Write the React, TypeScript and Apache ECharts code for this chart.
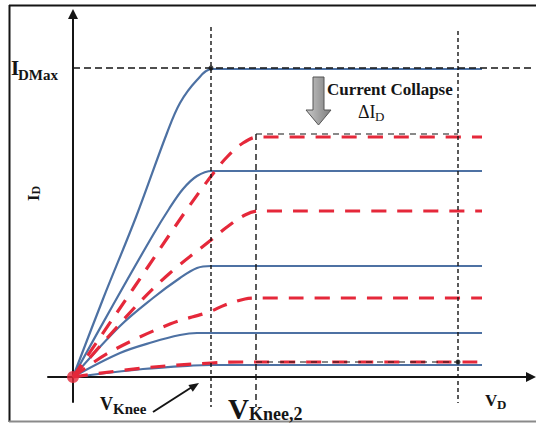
import React, { useEffect, useRef } from "react";
import * as echarts from "echarts";

type Pt = [number, number];

// Reference voltages / currents (V_D and I_D in arbitrary units)
const V_KNEE = 13.8;
const V_KNEE2 = 18.3;
const V_REF = 38.5;
const V_GUIDE_END = 45.9;
const ID_MAX = 30.9;
const ID_COLLAPSED = 24.3;
const ID_LOW_REF = 1.5;

// Solid curves: I_D(V_D) before current collapse
const solid1: Pt[] = [[0, 0], [3, 7.8], [6.3, 16], [9.4, 24.4], [10.7, 27.4], [12.4, 29.7], [13.9, 30.8], [40.9, 30.8]];
const solid2: Pt[] = [[0, 0], [4, 7.2], [8, 14.2], [9.6, 16.8], [11, 18.8], [12.4, 20.1], [13.9, 20.6], [40.9, 20.6]];
const solid3: Pt[] = [[0, 0], [4.7, 5.1], [8, 7.9], [10.7, 9.9], [12.4, 10.9], [13.8, 11.1], [40.9, 11.1]];
const solid4: Pt[] = [[0, 0], [4.7, 2.4], [8, 3.5], [10.7, 4.2], [12.4, 4.4], [13.8, 4.4], [40.9, 4.4]];
const solid5: Pt[] = [[0, 0], [7, 0.8], [12, 1.15], [13.8, 1.2], [40.9, 1.2]];

// Dashed curves: I_D(V_D) after current collapse
const dashed1: Pt[] = [[0, 0], [6, 8.8], [11, 16.2], [13.9, 20.2], [15.4, 22.0], [17.0, 23.4], [18.5, 24.0], [40.9, 24.0]];
const dashed2: Pt[] = [[0, 0], [6.4, 7.2], [9.7, 10.4], [13.8, 13.7], [15.4, 15.0], [17.2, 16.2], [18.6, 16.6], [40.9, 16.6]];
const dashed3: Pt[] = [[0, 0], [3.7, 2.5], [9.7, 5.3], [13.6, 6.5], [15.2, 7.2], [17.2, 7.8], [18.5, 7.9], [40.9, 7.9]];
const dashed4: Pt[] = [[0, 0], [7, 0.9], [13.8, 1.4], [17, 1.5], [40.9, 1.5]];

// Guide lines
const kneeGuide: Pt[] = [[V_KNEE, 35.0], [V_KNEE, -3.0]];
const knee2Guide: Pt[] = [[V_KNEE2, ID_COLLAPSED], [V_KNEE2, -3.0]];
const refGuide: Pt[] = [[V_REF, 34.6], [V_REF, -2.6]];
const idMaxGuide: Pt[] = [[0, ID_MAX], [V_GUIDE_END, ID_MAX]];
const collapsedGuide: Pt[] = [[V_KNEE2, ID_COLLAPSED], [V_REF, ID_COLLAPSED]];
const lowGuide: Pt[] = [[V_KNEE2, ID_LOW_REF], [V_REF, ID_LOW_REF]];
const markerDots: Pt[] = [[V_KNEE, ID_MAX], [V_REF, ID_LOW_REF]];
const originDot: Pt[] = [[0, 0]];

const BLUE = "#4d71a3";
const RED = "#e5283a";
const INK = "#151515";
const SERIF = "'Liberation Serif', 'Times New Roman', serif";

const curve = (data: Pt[], color: string, width: number, type: any) => ({
  type: "line",
  data,
  smooth: 0.35,
  showSymbol: false,
  silent: true,
  clip: false,
  lineStyle: { color, width, type, cap: "butt" },
  z: 2,
});

const guide = (data: Pt[], type: any, width = 1.4) => ({
  type: "line",
  data,
  showSymbol: false,
  silent: true,
  clip: false,
  lineStyle: { color: INK, width, type },
  z: 3,
});

const txt = (text: string, x: number, y: number, size: number, bold = true, extra: any = {}) => ({
  type: "text",
  silent: true,
  style: {
    text,
    x,
    y,
    font: `${bold ? "bold " : ""}${size}px ${SERIF}`,
    fill: INK,
    align: "left",
    verticalAlign: "middle",
    textAlign: "left",
    textVerticalAlign: "middle",
    ...extra,
  },
  z: 10,
});

// text element rotated a quarter turn about (cx, cy), reading bottom to top
const upright = (text: string, cx: number, cy: number, dx: number, dy: number, size: number) => ({
  type: "text",
  silent: true,
  x: cx,
  y: cy,
  rotation: Math.PI / 2,
  style: {
    text,
    x: dx,
    y: dy,
    font: `bold ${size}px ${SERIF}`,
    fill: INK,
    align: "left",
    verticalAlign: "middle",
    textAlign: "left",
    textVerticalAlign: "middle",
  },
  z: 10,
});

export default function App() {
  const ref = useRef<HTMLDivElement>(null);

  useEffect(() => {
    const chart = echarts.init(ref.current!, null, { renderer: "svg", width: 536, height: 425 });

    const axisLine = {
      show: true,
      onZero: true,
      symbol: ["none", "path://M5 0L10 10L0 10Z"],
      symbolSize: [11, 10],
      lineStyle: { color: INK, width: 2 },
    };

    const arrowGray = new echarts.graphic.LinearGradient(0, 0, 1, 0, [
      { offset: 0, color: "#c9c9c9" },
      { offset: 1, color: "#7d7d7d" },
    ]);

    chart.setOption({
      animation: false,
      backgroundColor: "#ffffff",
      grid: { left: 48, right: 5, top: 14, bottom: 23 },
      xAxis: {
        type: "value",
        min: -2.5,
        max: 45.8,
        axisLine,
        axisTick: { show: false },
        axisLabel: { show: false },
        splitLine: { show: false },
      },
      yAxis: {
        type: "value",
        min: -2.5,
        max: 36.3,
        axisLine,
        axisTick: { show: false },
        axisLabel: { show: false },
        splitLine: { show: false },
      },
      series: [
        curve(solid1, BLUE, 2.2, "solid"),
        curve(solid2, BLUE, 2.2, "solid"),
        curve(solid3, BLUE, 2.2, "solid"),
        curve(solid4, BLUE, 2.2, "solid"),
        curve(solid5, BLUE, 2.2, "solid"),
        curve(dashed1, RED, 3.2, [15, 11]),
        curve(dashed2, RED, 3.2, [15, 11]),
        curve(dashed3, RED, 3.2, [15, 11]),
        curve(dashed4, RED, 3.2, [15, 11]),
        guide(kneeGuide, [4, 3]),
        guide(knee2Guide, [6, 4]),
        guide(refGuide, [4, 3]),
        guide(idMaxGuide, [7, 4], 1.5),
        guide(collapsedGuide, [6, 5], 1.2),
        guide(lowGuide, [6, 5], 1.2),
        {
          type: "scatter",
          data: markerDots,
          symbolSize: 5,
          silent: true,
          itemStyle: { color: INK },
          z: 5,
        },
        {
          type: "scatter",
          data: originDot,
          symbolSize: 12,
          silent: true,
          itemStyle: { color: RED },
          z: 5,
        },
      ],
      graphic: [
        // frame
        { type: "line", silent: true, shape: { x1: 9.5, y1: 5, x2: 9.5, y2: 422 }, style: { stroke: INK, lineWidth: 2 } },
        { type: "line", silent: true, shape: { x1: 9, y1: 5.5, x2: 536, y2: 5.5 }, style: { stroke: INK, lineWidth: 2 } },
        { type: "line", silent: true, shape: { x1: 9, y1: 421.5, x2: 536, y2: 421.5 }, style: { stroke: "#8a8a8a", lineWidth: 2 } },

        // I_DMax label
        txt("I", 11, 68, 21),
        txt("DMax", 18, 75, 15),

        // I_D axis title, reading bottom to top
        upright("I", 33, 193, -8, 0, 17),
        upright("D", 33, 193, -1.5, 3, 12),

        // current collapse annotation
        {
          type: "polygon",
          silent: true,
          shape: {
            points: [[313, 77], [324, 77], [324, 110], [331, 110], [318.5, 125], [306, 110], [313, 110]],
          },
          style: { fill: arrowGray, stroke: "#555", lineWidth: 1 },
          z: 10,
        },
        txt("Current Collapse", 327, 89, 17),
        txt("ΔI", 358, 112, 18, false),
        txt("D", 375, 116.5, 13, false),

        // knee voltage labels
        txt("V", 100, 404, 18),
        txt("Knee", 113, 409, 15),
        { type: "line", silent: true, shape: { x1: 153, y1: 412, x2: 192, y2: 387 }, style: { stroke: INK, lineWidth: 2 }, z: 10 },
        {
          type: "polygon",
          silent: true,
          shape: { points: [[199, 383], [192.8, 391.8], [188.4, 385.0]] },
          style: { fill: INK },
          z: 10,
        },
        txt("V", 228, 409, 29),
        txt("Knee,2", 249, 414, 18),

        // V_D axis title
        txt("V", 485, 400.5, 17),
        txt("D", 497, 404.5, 13),
      ],
    });

    return () => chart.dispose();
  }, []);

  return (
    <div
      ref={ref}
      style={{ position: "absolute", left: 0, top: 0, width: 536, height: 425, background: "#fff" }}
    />
  );
}
